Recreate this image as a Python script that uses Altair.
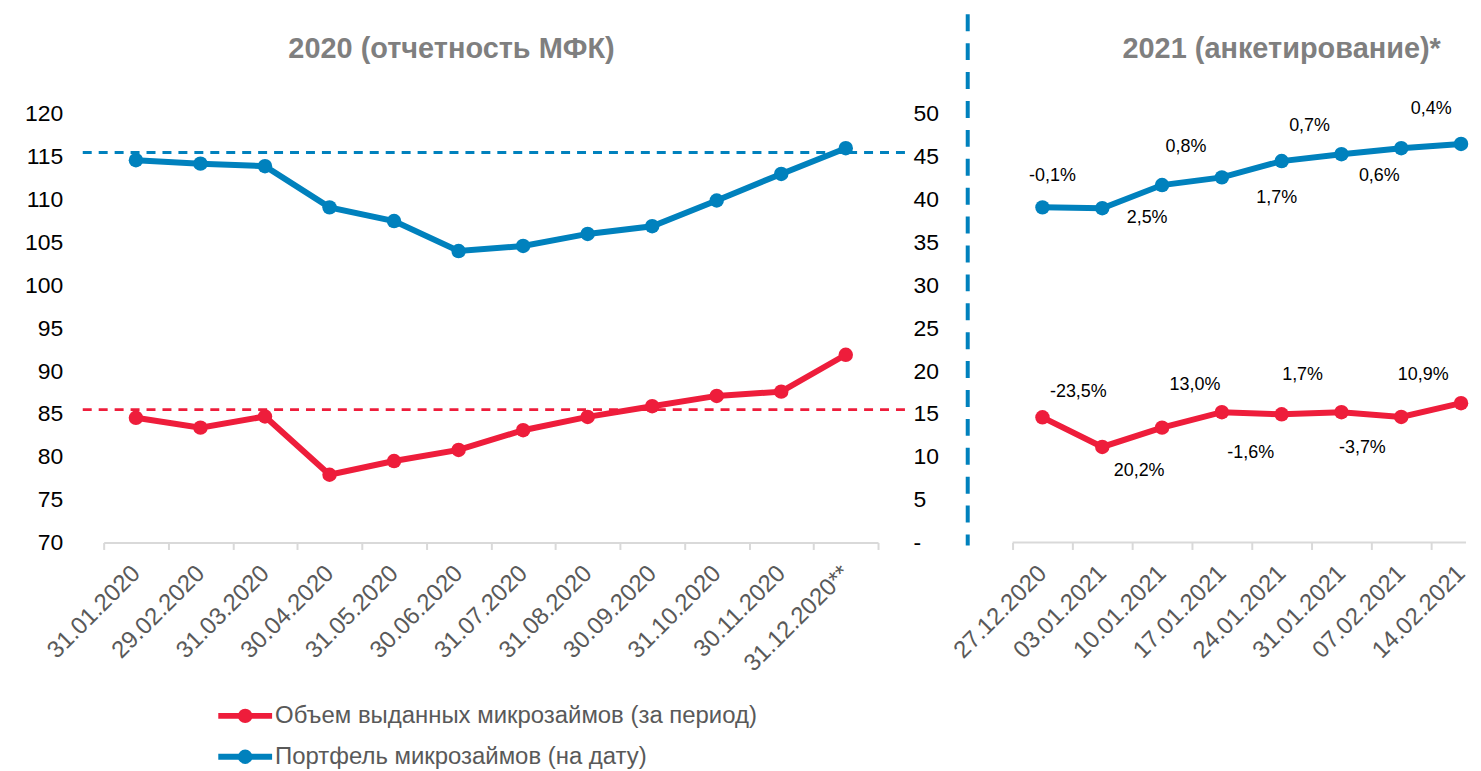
import altair as alt
import pandas as pd

# ---------------- data ----------------
months_2020 = ["31.01.2020", "29.02.2020", "31.03.2020", "30.04.2020", "31.05.2020", "30.06.2020",
               "31.07.2020", "31.08.2020", "30.09.2020", "31.10.2020", "30.11.2020", "31.12.2020**"]
portfolio_2020 = [114.6, 114.2, 113.9, 109.1, 107.5, 104.0, 104.6, 106.0, 106.9, 109.9, 113.0, 116.0]
volume_2020 = [14.55, 13.4, 14.7, 7.9, 9.5, 10.8, 13.1, 14.65, 15.9, 17.1, 17.6, 21.9]
portfolio_avg_2020 = 115.5
volume_avg_2020 = 15.5

weeks_2021 = ["27.12.2020", "03.01.2021", "10.01.2021", "17.01.2021",
              "24.01.2021", "31.01.2021", "07.02.2021", "14.02.2021"]
portfolio_2021 = [109.1, 109.0, 111.7, 112.6, 114.5, 115.3, 116.0, 116.5]
volume_2021 = [14.6, 11.15, 13.4, 15.2, 14.95, 15.2, 14.65, 16.25]
portfolio_changes = ["-0,1%", "2,5%", "0,8%", "1,7%", "0,7%", "0,6%", "0,4%"]
volume_changes = ["-23,5%", "20,2%", "13,0%", "-1,6%", "1,7%", "-3,7%", "10,9%"]

panel_titles = ["2020 (отчетность МФК)", "2021 (анкетирование)*"]
series = ["Объем выданных микрозаймов (за период)", "Портфель микрозаймов (на дату)"]

# ---------------- style ----------------
FONT = "Liberation Sans"
BLUE = "#0081BD"
RED = "#EE1D3B"
GRID = "#d9d9d9"
W1, W2, H = 777, 455, 430
STEP2 = 60  # pixel step between weekly points

# label offsets (dx, dy) for the weekly change labels
blue_label_offsets = [(-50, -32), (-15, 33), (-36, -30), (-5, 37), (-32, -28), (-22, 28), (-30, -35)]
red_label_offsets = [(-24, -55), (-23, 44), (-27, -27), (-31, 39), (-39, -37), (-39, 31), (-38, -28)]

xaxis_common = dict(labelAngle=-45, labelFontSize=24, labelColor="#595959", labelFont=FONT,
                    tickColor=GRID, tickWidth=2, tickSize=7, labelPadding=20,
                    labelAlign="right", labelBaseline="middle", grid=False, labelOverlap=False)

x1 = alt.X("date:N", sort=months_2020, title=None, bandPosition=0.5,
           scale=alt.Scale(type="band", domain=months_2020, paddingInner=0, paddingOuter=0),
           axis=alt.Axis(domainColor=GRID, domainWidth=2, tickBand="extent", **xaxis_common))

x2 = alt.X("date:N", sort=weeks_2021, title=None,
           scale=alt.Scale(type="point", domain=weeks_2021, padding=0,
                           range=[STEP2 / 2, STEP2 / 2 + STEP2 * (len(weeks_2021) - 1)]),
           axis=alt.Axis(domain=False, tickOffset=-STEP2 / 2, labelOffset=STEP2 / 2, **xaxis_common))


def yblue(show_axis):
    ax = alt.Axis(orient="left", values=list(range(70, 121, 5)), labelFontSize=23,
                  labelColor="#000000", labelFont=FONT, labelPadding=41, domain=False,
                  ticks=False, grid=False) if show_axis else None
    return alt.Y("portfolio:Q", title=None,
                 scale=alt.Scale(domain=[70, 120], nice=False, zero=False), axis=ax)


def yred(show_axis):
    ax = alt.Axis(orient="right", values=list(range(0, 51, 5)),
                  labelExpr="datum.value == 0 ? '-' : datum.label", labelFontSize=23,
                  labelColor="#000000", labelFont=FONT, labelPadding=35, domain=False,
                  ticks=False, grid=False) if show_axis else None
    return alt.Y("volume:Q", title=None,
                 scale=alt.Scale(domain=[0, 50], nice=False, zero=False), axis=ax)


# ---------------- panel 2020 ----------------
df1 = pd.DataFrame({"date": months_2020, "portfolio": portfolio_2020, "volume": volume_2020})
b1 = alt.Chart(df1)

blue1 = alt.layer(
    alt.Chart(pd.DataFrame({"portfolio": [portfolio_avg_2020]})).mark_rule(
        color=BLUE, strokeWidth=3, strokeDash=[9, 7]
    ).encode(y=yblue(True), x=alt.value(-21), x2=alt.value(W1 + 30)),
    b1.mark_line(color=BLUE, strokeWidth=6).encode(x=x1, y=yblue(True)),
    b1.mark_circle(color=BLUE, size=210, opacity=1).encode(x=x1, y=yblue(True)),
)
red1 = alt.layer(
    alt.Chart(pd.DataFrame({"volume": [volume_avg_2020]})).mark_rule(
        color=RED, strokeWidth=3, strokeDash=[9, 7]
    ).encode(y=yred(True), x=alt.value(-21), x2=alt.value(W1 + 30)),
    b1.mark_line(color=RED, strokeWidth=6).encode(x=x1, y=yred(True)),
    b1.mark_circle(color=RED, size=210, opacity=1).encode(x=x1, y=yred(True)),
)

title1 = alt.Chart(pd.DataFrame({"t": [panel_titles[0]]})).mark_text(
    font=FONT, fontSize=29, fontWeight="bold", color="#7f7f7f", baseline="middle"
).encode(text="t:N", x=alt.value(349), y=alt.value(-65))

legend_layers = []
for i, (name, col) in enumerate(zip(series, [RED, BLUE])):
    ly = 604 + 41 * i
    ldf = pd.DataFrame({"s": [name]})
    legend_layers.append(alt.Chart(ldf).mark_rule(color=col, strokeWidth=6).encode(
        x=alt.value(115), x2=alt.value(169), y=alt.value(ly)))
    legend_layers.append(alt.Chart(ldf).mark_circle(color=col, size=210, opacity=1).encode(
        x=alt.value(142), y=alt.value(ly)))
    legend_layers.append(alt.Chart(ldf).mark_text(
        font=FONT, fontSize=24, color="#595959", align="left", baseline="middle"
    ).encode(text="s:N", x=alt.value(172), y=alt.value(ly)))

panel1 = alt.layer(blue1, red1, title1, *legend_layers).resolve_scale(
    y="independent").properties(width=W1, height=H)

# ---------------- panel 2021 ----------------
df2 = pd.DataFrame({"date": weeks_2021, "portfolio": portfolio_2021, "volume": volume_2021})
b2 = alt.Chart(df2)

blue_lbls = []
for i, (txt, (dx, dy)) in enumerate(zip(portfolio_changes, blue_label_offsets)):
    ldf = pd.DataFrame({"date": [weeks_2021[i + 1]], "portfolio": [portfolio_2021[i + 1]], "t": [txt]})
    blue_lbls.append(alt.Chart(ldf).mark_text(
        font=FONT, fontSize=18, color="#000000", dx=dx, dy=dy, align="center", baseline="middle"
    ).encode(x=x2, y=yblue(False), text="t:N"))

red_lbls = []
for i, (txt, (dx, dy)) in enumerate(zip(volume_changes, red_label_offsets)):
    ldf = pd.DataFrame({"date": [weeks_2021[i + 1]], "volume": [volume_2021[i + 1]], "t": [txt]})
    red_lbls.append(alt.Chart(ldf).mark_text(
        font=FONT, fontSize=18, color="#000000", dx=dx, dy=dy, align="center", baseline="middle"
    ).encode(x=x2, y=yred(False), text="t:N"))

blue2 = alt.layer(
    b2.mark_line(color=BLUE, strokeWidth=6).encode(x=x2, y=yblue(False)),
    b2.mark_circle(color=BLUE, size=210, opacity=1).encode(x=x2, y=yblue(False)),
    *blue_lbls,
)
red2 = alt.layer(
    b2.mark_line(color=RED, strokeWidth=6).encode(x=x2, y=yred(False)),
    b2.mark_circle(color=RED, size=210, opacity=1).encode(x=x2, y=yred(False)),
    *red_lbls,
)

title2 = alt.Chart(pd.DataFrame({"t": [panel_titles[1]]})).mark_text(
    font=FONT, fontSize=29, fontWeight="bold", color="#7f7f7f", baseline="middle"
).encode(text="t:N", x=alt.value(270), y=alt.value(-65))

divider = alt.Chart(pd.DataFrame({"d": [0]})).mark_rule(
    color=BLUE, strokeWidth=4, strokeDash=[17, 12]
).encode(x=alt.value(-45), y=alt.value(-100), y2=alt.value(H + 3))

baseline2 = alt.Chart(pd.DataFrame({"d": [0]})).mark_rule(
    color=GRID, strokeWidth=2
).encode(x=alt.value(0), x2=alt.value(W2), y=alt.value(H))

panel2 = alt.layer(divider, baseline2, blue2, red2, title2).resolve_scale(
    y="independent").properties(width=W2, height=H)

chart = alt.hconcat(panel1, panel2, spacing=135, bounds="flush").resolve_scale(
    x="independent", y="independent"
).properties(
    padding={"left": 16, "top": 3, "right": 0, "bottom": 0}
).configure(font=FONT, background="white").configure_view(strokeWidth=0)

chart.save("out.html", embed_options={"renderer": "svg", "actions": False})
